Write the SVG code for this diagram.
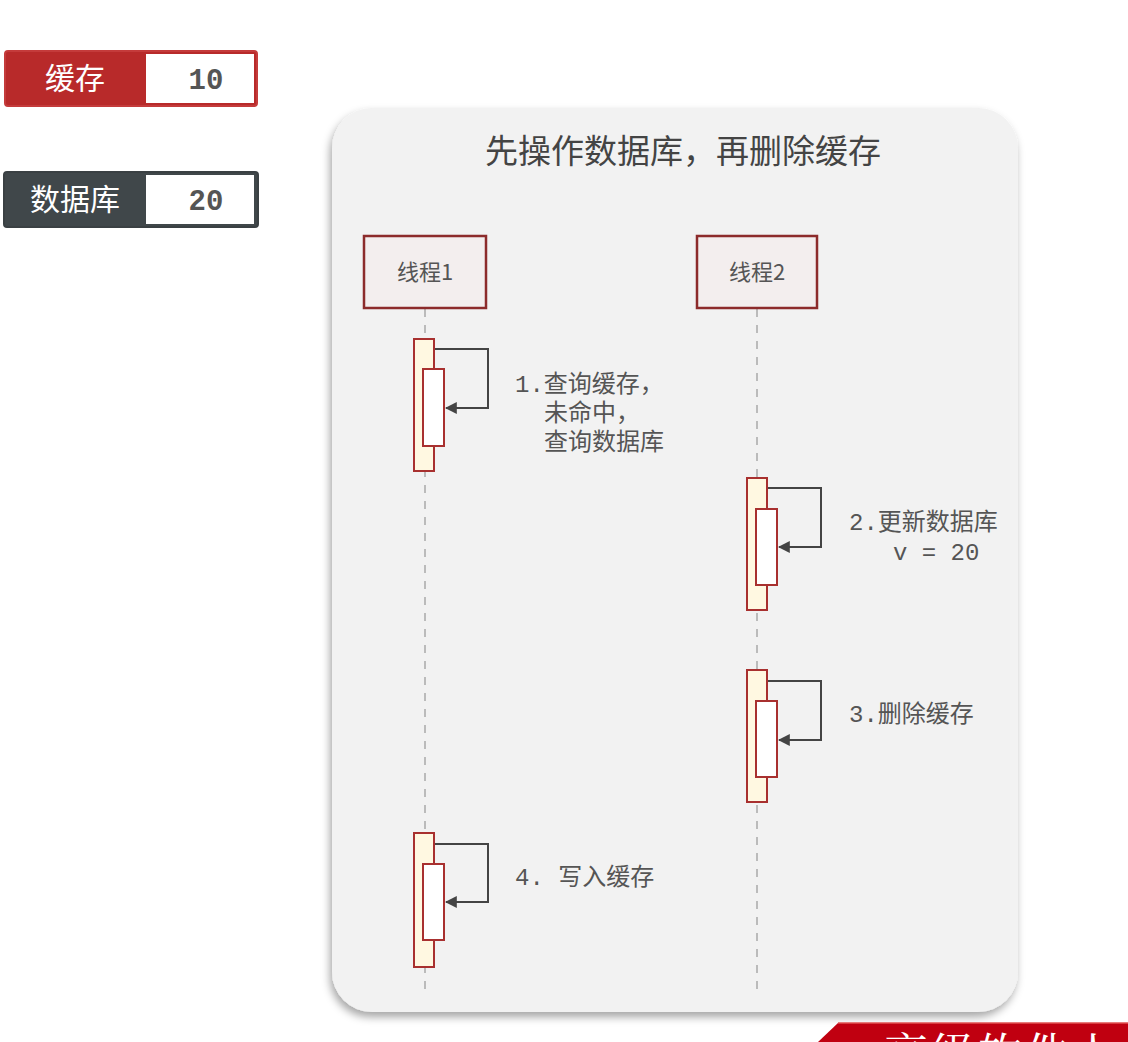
<svg xmlns="http://www.w3.org/2000/svg" width="1128" height="1042" viewBox="0 0 1128 1042">
<defs>
<filter id="sh" x="-10%" y="-10%" width="120%" height="120%">
<feDropShadow dx="-2" dy="5" stdDeviation="4" flood-color="#000" flood-opacity="0.35"/>
</filter>
<marker id="ah" viewBox="0 0 10 10" refX="9" refY="5" markerWidth="6" markerHeight="6" orient="auto" markerUnits="strokeWidth">
<path d="M0,0 L10,5 L0,10 z" fill="#444"/>
</marker>
<clipPath id="clipAll"><rect x="0" y="0" width="1128" height="1042"/></clipPath>
</defs>
<style>
.cjk{font-family:"Noto Sans CJK SC","Noto Sans",sans-serif;}
.mono{font-family:"Liberation Mono","Noto Sans CJK SC",monospace;}
.lbl{font-size:24px;fill:#555;}
.life{stroke:#bbb;stroke-width:2;stroke-dasharray:8 8;fill:none;}
.actO{fill:#fff8e1;stroke:#a8302f;stroke-width:2;}
.actI{fill:#ffffff;stroke:#a8302f;stroke-width:2;}
.conn{fill:none;stroke:#444;stroke-width:2;}
.head{fill:#f3eeee;stroke:#8c2b2b;stroke-width:2.5;}
</style>
<rect width="1128" height="1042" fill="#ffffff"/>

<g id="cache-value">
<rect x="5" y="51" width="252" height="55" rx="3" fill="#b82a2a" stroke="#c43b3b" stroke-width="2"/>
<rect x="146" y="54" width="108" height="49" fill="#ffffff"/>
<text x="75" y="89" class="cjk" font-size="30" fill="#ffffff" text-anchor="middle">缓存</text>
<text x="206" y="89" class="mono" font-size="29" font-weight="bold" fill="#555" text-anchor="middle">10</text>
</g>

<g id="db-value">
<rect x="4" y="172" width="254" height="55" rx="3" fill="#40474a" stroke="#3a4043" stroke-width="2"/>
<rect x="146" y="175" width="108" height="49" fill="#ffffff"/>
<text x="75" y="210" class="cjk" font-size="30" fill="#ffffff" text-anchor="middle">数据库</text>
<text x="206" y="210" class="mono" font-size="29" font-weight="bold" fill="#555" text-anchor="middle">20</text>
</g>

<g id="panel">
<rect x="332" y="108" width="686" height="904" rx="40" fill="#f2f2f2" filter="url(#sh)"/>
<text x="683" y="163" class="cjk" font-size="33" fill="#444" text-anchor="middle">先操作数据库，再删除缓存</text>
</g>

<g id="connectors">
<line class="life" x1="425" y1="309" x2="425" y2="992"/>
<line class="life" x1="757" y1="309" x2="757" y2="992"/>
<polyline class="conn" points="434,349 488,349 488,408 446,408" marker-end="url(#ah)"/>
<polyline class="conn" points="767,488 821,488 821,547 779,547" marker-end="url(#ah)"/>
<polyline class="conn" points="767,681 821,681 821,740 779,740" marker-end="url(#ah)"/>
<polyline class="conn" points="434,844 488,844 488,902 446,902" marker-end="url(#ah)"/>
</g>

<g id="thread1">
<rect class="head" x="364" y="236" width="122" height="72"/>
<text x="425" y="280" class="cjk" font-size="22" fill="#555" text-anchor="middle">线程1</text>
</g>
<g id="thread2">
<rect class="head" x="697" y="236" width="120" height="72"/>
<text x="757" y="280" class="cjk" font-size="22" fill="#555" text-anchor="middle">线程2</text>
</g>

<g id="step1">
<rect class="actO" x="414" y="339" width="20" height="132"/>
<rect class="actI" x="423" y="369" width="21" height="77"/>
<text class="mono lbl" x="515" y="392">1.查询缓存，</text>
<text class="mono lbl" x="544" y="421">未命中，</text>
<text class="mono lbl" x="544" y="450">查询数据库</text>
</g>

<g id="step2">
<rect class="actO" x="747" y="478" width="20" height="132"/>
<rect class="actI" x="756" y="509" width="21" height="76"/>
<text class="mono lbl" x="849" y="530">2.更新数据库</text>
<text class="mono lbl" x="893" y="560" xml:space="preserve">v = 20</text>
</g>

<g id="step3">
<rect class="actO" x="747" y="670" width="20" height="132"/>
<rect class="actI" x="756" y="701" width="21" height="76"/>
<text class="mono lbl" x="849" y="722">3.删除缓存</text>
</g>

<g id="step4">
<rect class="actO" x="414" y="833" width="20" height="134"/>
<rect class="actI" x="423" y="864" width="21" height="76"/>
<text class="mono lbl" x="515" y="885" xml:space="preserve">4. 写入缓存</text>
</g>

<g id="banner" clip-path="url(#clipAll)">
<polygon points="838,1023 1128,1023 1128,1042 818,1042" fill="#c00010"/>
<line x1="838" y1="1023" x2="1128" y2="1023" stroke="#e05050" stroke-width="1.5"/>
<text x="884" y="1070" font-family="'Noto Serif CJK SC','Noto Sans CJK SC',serif" font-size="44" fill="#ffffff" letter-spacing="3">高级软件人才</text>
</g>
</svg>
